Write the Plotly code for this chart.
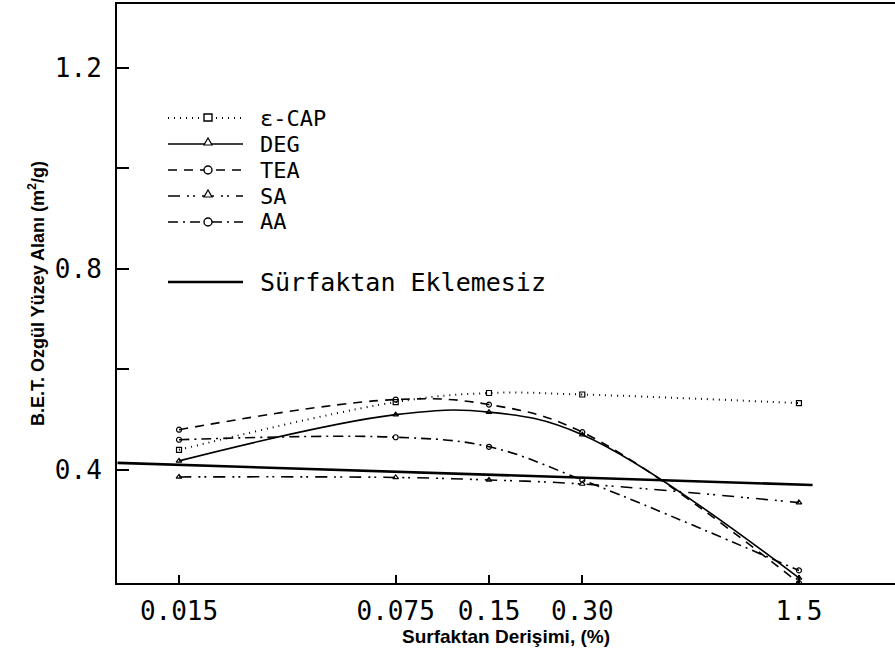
import plotly.graph_objects as go

# ---- data ----
conc = [0.015, 0.075, 0.15, 0.30, 1.5]
tick_text = ["0.015", "0.075", "0.15", "0.30", "1.5"]

ecap = [0.44, 0.535, 0.553, 0.55, 0.533]
deg = [0.418, 0.51, 0.515, 0.47, 0.185]
tea = [0.48, 0.54, 0.53, 0.475, 0.175]
sa = [0.386, 0.385, 0.38, 0.372, 0.335]
aa = [0.46, 0.465, 0.446, 0.38, 0.2]

base_x = [0.0095, 1.66]
base_y = [0.414, 0.37]

y_ticks = [0.4, 0.8, 1.2]
y_tick_text = ["0.4", "0.8", "1.2"]
y_minor = [0.6, 1.0]

W, H = 895, 648
ML, MR, MT, MB = 117, 0, 4, 65
PW, PH = W - ML - MR, H - MT - MB

MONO = "DejaVu Sans Mono"

series = [
    ("ε-CAP", ecap, dict(dash="1px,5px", width=2), "square-open"),
    ("DEG", deg, dict(dash="solid", width=1.6), "triangle-up-open"),
    ("TEA", tea, dict(dash="9px,7px", width=1.6), "circle-open"),
    ("SA", sa, dict(dash="12px,7px,2px,4px,2px,7px", width=1.6), "triangle-up-open"),
    ("AA", aa, dict(dash="10px,5px,2px,5px", width=1.6), "circle-open"),
]

fig = go.Figure()
for name, vals, line, sym in series:
    fig.add_trace(go.Scatter(
        x=conc, y=vals, mode="lines+markers", name=name,
        line=dict(color="black", shape="spline", smoothing=1.1, **line),
        marker=dict(symbol=sym, size=5, color="black", line=dict(width=1.2, color="black")),
        showlegend=False,
    ))

fig.add_trace(go.Scatter(
    x=base_x, y=base_y, mode="lines", name="Sürfaktan Eklemesiz",
    line=dict(color="black", width=2.6), showlegend=False,
))

# ---- hand-drawn style legend (shapes + text) ----
def fx(px):
    return (px - ML) / PW

def fy(py):
    return 1 - (py - MT) / PH

legend_rows = [
    ("ε-CAP", 118, dict(dash="1px,5px", width=2), "square", 22),
    ("DEG", 144, dict(dash="solid", width=1.6), "triangle", 22),
    ("TEA", 170, dict(dash="9px,7px", width=1.6), "circle", 22),
    ("SA", 196, dict(dash="12px,7px,2px,4px,2px,7px", width=1.6), "triangle", 22),
    ("AA", 222, dict(dash="10px,5px,2px,5px", width=1.6), "circle", 22),
    ("Sürfaktan Eklemesiz", 282, dict(dash="solid", width=2.6), None, 25),
]
shapes = []
annotations = []
for label, py, line, mk, fs in legend_rows:
    shapes.append(dict(type="line", xref="paper", yref="paper",
                       x0=fx(168), x1=fx(243), y0=fy(py), y1=fy(py),
                       line=dict(color="black", **line)))
    mx = 208
    if mk == "square":
        shapes.append(dict(type="rect", xref="paper", yref="paper",
                           x0=fx(mx - 4), x1=fx(mx + 4), y0=fy(py + 3), y1=fy(py - 4),
                           line=dict(color="black", width=1.4), fillcolor="white"))
    elif mk == "circle":
        shapes.append(dict(type="circle", xref="paper", yref="paper",
                           x0=fx(mx - 4), x1=fx(mx + 4), y0=fy(py + 4), y1=fy(py - 4),
                           line=dict(color="black", width=1.4), fillcolor="white"))
    elif mk == "triangle":
        shapes.append(dict(type="path", xref="paper", yref="paper",
                           path=f"M {fx(mx-4)} {fy(py+1)} L {fx(mx+4)} {fy(py+1)} L {fx(mx)} {fy(py-6)} Z",
                           line=dict(color="black", width=1.2), fillcolor="white"))
    annotations.append(dict(text=label, xref="paper", yref="paper",
                            x=fx(258), y=fy(py), xanchor="left", yanchor="middle",
                            showarrow=False,
                            font=dict(family=MONO, size=fs, color="black")))

fig.update_layout(
    width=W, height=H,
    margin=dict(l=ML, r=MR, t=MT, b=MB),
    paper_bgcolor="white", plot_bgcolor="white",
    showlegend=False,
    shapes=shapes, annotations=annotations,
    xaxis=dict(
        type="log", range=[-2.024, 0.486],
        tickvals=conc, ticktext=tick_text,
        ticks="inside", ticklen=8, tickwidth=2, tickcolor="black",
        showline=True, linewidth=2, linecolor="black", mirror=True,
        showgrid=False, zeroline=False,
        tickfont=dict(family=MONO, size=26, color="black"),
        ticklabelstandoff=4,
        title=dict(text="Surfaktan Derişimi, (%)", standoff=3,
                   font=dict(family="Liberation Sans", size=19, color="black", weight="bold")),
    ),
    yaxis=dict(
        range=[0.175, 1.327],
        tickvals=y_ticks, ticktext=y_tick_text,
        ticks="inside", ticklen=12, tickwidth=2, tickcolor="black",
        minor=dict(tickvals=y_minor, ticks="inside", ticklen=12, tickwidth=2,
                   tickcolor="black", showgrid=False),
        showline=True, linewidth=2, linecolor="black",
        showgrid=False, zeroline=False,
        tickfont=dict(family=MONO, size=26, color="black"),
        ticklabelstandoff=8,
        title=dict(text="B.E.T. Ozgül Yüzey Alanı (m<sup>2</sup>/g)", standoff=6,
                   font=dict(family="Liberation Sans", size=18, color="black", weight="bold")),
    ),
)

fig.write_html("out.html")
